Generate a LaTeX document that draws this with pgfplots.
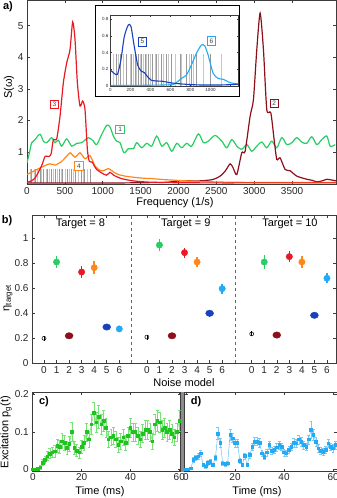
\documentclass[border=0pt]{standalone}
\usepackage{pgfplots}
\pgfplotsset{compat=1.18}
\usepackage{fontspec}
\setmainfont{Liberation Sans}
\definecolor{cgreen}{RGB}{40,205,100}
\definecolor{cdred}{RGB}{140,15,25}
\definecolor{cred}{RGB}{232,25,35}
\definecolor{corange}{RGB}{255,135,25}
\definecolor{cblue}{RGB}{25,65,190}
\definecolor{clblue}{RGB}{35,170,245}
\definecolor{cgreenc}{RGB}{30,195,30}
\definecolor{cgreencl}{RGB}{120,225,120}
\definecolor{clbluel}{RGB}{125,200,245}
\definecolor{axgray}{RGB}{60,60,60}
\pgfplotsset{
  base/.style={
    scale only axis, anchor=south west,
    axis line style={line width=0.6pt, axgray},
    tick style={line width=0.5pt, axgray},
    tick align=inside, major tick length=3pt,
    tick label style={font=\fontsize{10}{12}\selectfont, text=black!85},
    /pgf/number format/assume math mode=true,
    /pgf/number format/1000 sep={},
    scaled ticks=false,
  },
}
\tikzset{boxlab/.style={draw=#1, fill=white, line width=0.7pt, inner sep=0pt, minimum width=8.5pt, minimum height=8.5pt, font=\fontsize{6.5}{7}\selectfont, text=black!75}}
\begin{document}
\begin{tikzpicture}[x=1pt,y=1pt]
% ---------------- panel a ----------------
\begin{axis}[base, at={(27pt,314pt)}, width=309pt, height=183.5pt,
  xmin=0, xmax=4080, ymin=-0.02, ymax=5.8,
  xtick={0,500,...,3500}, ytick={1,2,3,4,5}]
\addplot[ycomb, black!22, line width=0.5pt] coordinates {(40,0.45) (90,0.45) (140,0.45) (190,0.45) (250,0.45) (300,0.45) (340,0.45) (400,0.45) (450,0.45) (500,0.45) (560,0.45) (610,0.45) (680,0.45) (740,0.45) (800,0.45)};
\addplot[ycomb, black!40, line width=0.5pt] coordinates {(60,0.45) (110,0.45) (170,0.45) (220,0.45) (270,0.45) (320,0.45) (370,0.45) (420,0.45) (470,0.45) (530,0.45) (590,0.45) (640,0.45) (710,0.45) (760,0.45) (830,0.45)};
\addplot[cgreen, line width=1.2pt, smooth, tension=0.5] table {
f S
0 0.65
30 0.95
62 1.29
106 1.39
172 1.56
216 1.34
260 1.29
326 1.45
370 1.29
414 1.37
458 1.18
524 1.41
590 1.18
656 1.27
722 1.29
810 1.45
876 1.34
920 1.23
986 1.55
1052 1.84
1096 1.79
1140 1.50
1184 1.34
1228 1.29
1281 0.97
1339 1.10
1405 1.10
1449 1.29
1515 1.13
1581 1.27
1647 1.18
1713 1.50
1779 1.18
1845 1.29
1911 1.02
1977 1.27
2043 1.13
2109 1.27
2175 1.18
2263 1.57
2329 1.29
2395 1.34
2483 1.52
2572 1.34
2638 1.13
2704 1.39
2770 1.18
2836 1.08
2902 1.23
2968 1.02
3034 1.18
3100 1.31
3166 1.13
3232 1.34
3298 1.13
3364 1.45
3430 1.23
3496 1.29
3562 1.45
3628 1.31
3694 1.27
3760 1.48
3826 1.23
3893 1.39
3959 1.50
4003 1.18
4069 1.23
};
\addplot[cdred, line width=1.2pt, smooth, tension=0.4] table {
f S
0 0.01
1000 0.01
1800 0.03
2021 0.08
2285 0.08
2450 0.12
2550 0.23
2620 0.40
2682 0.62
2720 0.50
2770 0.28
2836 0.97
2880 1.02
2946 2.13
2990 2.66
3034 4.24
3078 5.40
3122 4.24
3166 2.34
3219 2.24
3263 1.39
3298 0.76
3342 0.81
3408 0.44
3474 0.40
3562 0.23
3695 0.13
3760 0.10
3826 0.05
3900 0.08
3960 0.13
4080 0.08
};
\addplot[corange, line width=1.2pt, smooth, tension=0.4] table {
f S
0 0.28
100 0.40
200 0.52
300 0.62
370 0.58
450 0.68
520 0.85
570 0.97
634 0.83
700 0.97
766 0.78
832 0.88
898 0.55
960 0.42
1010 0.40
1075 0.47
1150 0.35
1207 0.28
1320 0.22
1500 0.17
1650 0.15
1800 0.12
1950 0.10
2100 0.08
2300 0.06
2600 0.04
3000 0.03
4080 0.025
};
\addplot[cred, line width=1.2pt, smooth, tension=0.4] table {
f S
0 0.03
60 0.08
100 0.15
150 0.35
200 0.60
240 0.86
290 0.85
320 0.95
348 1.39
392 1.41
436 2.13
480 3.19
524 3.82
568 4.24
603 5.12
634 4.56
665 3.19
700 2.45
735 2.61
766 2.34
797 1.08
823 0.70
860 0.68
890 0.55
920 0.44
986 0.33
1050 0.26
1097 0.35
1150 0.25
1250 0.15
1400 0.08
1600 0.04
2000 0.02
2500 0.015
3000 0.015
4080 0.015
};
\node[boxlab=cgreen] at (axis cs:1229,1.71) {1};
\node[boxlab=cdred] at (axis cs:3263,2.53) {2};
\node[boxlab=cred] at (axis cs:361,2.50) {3};
\node[boxlab=corange] at (axis cs:687,0.55) {4};
\end{axis}
% inset
\draw[line width=0.7pt, fill=white] (95.7,401.3) rectangle (239.3,492.7);
\begin{axis}[base, at={(110.5pt,412pt)}, width=127.5pt, height=70.3pt,
  xmin=0, xmax=1275, ymin=0, ymax=0.84,
  major tick length=1.5pt,
  tick label style={font=\fontsize{4.5}{5}\selectfont},
  xtick={0,200,...,1200}, xticklabels={0,200,400,600,800,1000,},
  ytick={0,0.2,0.4,0.6,0.8},
  xticklabel style={yshift=1.5pt}, yticklabel style={xshift=1.5pt}]
\addplot[ycomb, black!22, line width=0.5pt] coordinates {(28,0.38) (78,0.38) (128,0.38) (195,0.38) (230,0.38) (262,0.38) (295,0.38) (330,0.38) (360,0.38) (402,0.38) (445,0.38) (478,0.38) (528,0.38) (578,0.38) (645,0.38) (712,0.38) (790,0.38) (828,0.38) (925,0.38) (1112,0.38)};
\addplot[ycomb, black!40, line width=0.5pt] coordinates {(55,0.38) (102,0.38) (162,0.38) (212,0.38) (245,0.38) (278,0.38) (312,0.38) (345,0.38) (378,0.38) (422,0.38) (462,0.38) (512,0.38) (560,0.38) (612,0.38) (695,0.38) (762,0.38) (812,0.38) (862,0.38) (1000,0.38)};
\addplot[clblue, line width=1.1pt, smooth, tension=0.4] table {
x y
0 0.008
300 0.008
600 0.015
658 0.04
708 0.09
758 0.13
809 0.25
859 0.39
909 0.49
943 0.48
976 0.37
1027 0.15
1077 0.09
1127 0.08
1195 0.04
1275 0.025
};
\addplot[cblue, line width=1.1pt, smooth, tension=0.4] table {
x y
0 0.19
37 0.15
70 0.14
104 0.31
138 0.59
178 0.73
205 0.71
238 0.47
272 0.25
305 0.18
339 0.16
372 0.11
406 0.07
456 0.06
523 0.056
591 0.04
658 0.03
758 0.02
900 0.012
1100 0.012
1275 0.02
};
\node[boxlab=cblue] at (axis cs:320,0.53) {5};
\node[boxlab=clblue] at (axis cs:1010,0.54) {6};
\end{axis}
\node[font=\bfseries\fontsize{11}{12}\selectfont] at (8,491) {a)};
\node[rotate=90, font=\fontsize{11}{12}\selectfont] at (9,411) {S(ω)};
\node[font=\fontsize{11}{12}\selectfont] at (175,295) {Frequency (1/s)};
% ---------------- panel b ----------------
\begin{axis}[base, at={(32pt,134.7pt)}, width=304pt, height=148.3pt,
  xmin=-0.956, xmax=23.27, ymin=0, ymax=1.186,
  ytick={0,0.2,0.4,0.6,0.8,1},
  xtick={0,1,2,3,4,5,6,8.2,9.2,10.2,11.2,12.2,13.2,14.2,16.55,17.55,18.55,19.55,20.55,21.55,22.55},
  xticklabels={0,1,2,3,4,5,6,0,1,2,3,4,5,6,0,1,2,3,4,5,6}]
\draw[dashed, black!60, line width=0.6pt] (axis cs:6.99,0) -- (axis cs:6.99,1.186);
\draw[dashed, black!60, line width=0.6pt] (axis cs:15.22,0) -- (axis cs:15.22,1.186);
\node[font=\fontsize{11}{12}\selectfont] at (axis cs:2.9,1.118) {Target = 8};
\node[font=\fontsize{11}{12}\selectfont] at (axis cs:11.3,1.118) {Target = 9};
\node[font=\fontsize{11}{12}\selectfont] at (axis cs:19.6,1.118) {Target = 10};
\addplot[only marks, mark=o, mark size=2pt, black, line width=0.5pt,
  error bars/.cd, y dir=both, y explicit, error bar style={line width=0.5pt, black}, error mark=none]
  coordinates {(0,0.20) +- (0,0.02) (8.2,0.21) +- (0,0.02) (16.55,0.235) +- (0,0.02)};
\addplot[only marks, mark=*, mark size=3.2pt, cgreen,
  error bars/.cd, y dir=both, y explicit, error bar style={line width=1.4pt, cgreen}, error mark=none]
  coordinates {(1,0.81) +- (0,0.045) (9.2,0.946) +- (0,0.045) (17.55,0.81) +- (0,0.055)};
\addplot[only marks, mark=*, mark size=3.2pt, mark options={xscale=1.25}, cdred,
  error bars/.cd, y dir=both, y explicit, error bar style={line width=1.4pt, cdred}, error mark=none]
  coordinates {(2,0.22) +- (0,0.02) (10.2,0.22) +- (0,0.02) (18.55,0.226) +- (0,0.015)};
\addplot[only marks, mark=*, mark size=3.2pt, cred,
  error bars/.cd, y dir=both, y explicit, error bar style={line width=1.4pt, cred}, error mark=none]
  coordinates {(3,0.73) +- (0,0.05) (11.2,0.885) +- (0,0.04) (19.55,0.853) +- (0,0.045)};
\addplot[only marks, mark=*, mark size=3.2pt, corange,
  error bars/.cd, y dir=both, y explicit, error bar style={line width=1.4pt, corange}, error mark=none]
  coordinates {(4,0.765) +- (0,0.05) (12.2,0.81) +- (0,0.04) (20.55,0.81) +- (0,0.045)};
\addplot[only marks, mark=*, mark size=3.2pt, mark options={xscale=1.25}, cblue,
  error bars/.cd, y dir=both, y explicit, error bar style={line width=1.4pt, cblue}, error mark=none]
  coordinates {(5,0.29) +- (0,0.02) (13.2,0.40) +- (0,0.03) (21.55,0.384) +- (0,0.012)};
\addplot[only marks, mark=*, mark size=3.2pt, clblue,
  error bars/.cd, y dir=both, y explicit, error bar style={line width=1.4pt, clblue}, error mark=none]
  coordinates {(6,0.275) +- (0,0.015) (14.2,0.597) +- (0,0.04) (22.55,0.68) +- (0,0.04)};
\end{axis}
\node[font=\bfseries\fontsize{11}{12}\selectfont] at (7,277) {b)};
\node[rotate=90, font=\fontsize{11}{12}\selectfont] at (8,200) {η\textsubscript{target}};
\node[font=\fontsize{11}{12}\selectfont] at (184,115) {Noise model};
% ---------------- panel c ----------------
\fill[black!45] (180.5,26.3) rectangle (184.5,106);
\begin{axis}[base, at={(32.3pt,26.3pt)}, width=148.2pt, height=79.7pt,
  xmin=-0.2, xmax=60.5, ymin=-0.0064, ymax=0.206,
  xtick={0,20,40,60}, ytick={0,0.1,0.2},
  xticklabel style={yshift=1.5pt}]
\addplot[cgreencl, line width=0.6pt, mark=square*, mark size=1.3pt,
  mark options={cgreenc, fill=cgreenc},
  error bars/.cd, y dir=both, y explicit,
  error bar style={line width=0.5pt, cgreencl}, error mark options={rotate=90, mark size=1.4pt, cgreencl}]
  table[x index=0, y index=1, y error index=2] {
t y e
0 0 0.002
1 0 0.002
2 0.002 0.003
3 0.005 0.005
4 0.018 0.008
5 0.025 0.01
6 0.035 0.012
7 0.042 0.013
8 0.045 0.014
9 0.048 0.015
10 0.062 0.017
11 0.06 0.017
12 0.075 0.02
13 0.07 0.02
14 0.058 0.018
15 0.068 0.02
16 0.1 0.025
17 0.058 0.018
18 0.05 0.016
19 0.045 0.015
20 0.06 0.018
21 0.07 0.02
22 0.1 0.024
23 0.08 0.022
24 0.12 0.026
25 0.15 0.03
26 0.125 0.027
27 0.14 0.03
28 0.12 0.026
29 0.13 0.028
30 0.11 0.025
31 0.08 0.022
32 0.085 0.022
33 0.09 0.023
34 0.08 0.022
35 0.065 0.02
36 0.075 0.021
37 0.085 0.022
38 0.07 0.02
39 0.09 0.023
40 0.11 0.025
41 0.1 0.024
42 0.1 0.024
43 0.09 0.023
44 0.08 0.022
45 0.095 0.024
46 0.105 0.025
47 0.105 0.025
48 0.1 0.024
49 0.075 0.021
50 0.12 0.026
51 0.13 0.028
52 0.125 0.027
53 0.105 0.025
54 0.11 0.025
55 0.1 0.024
56 0.105 0.025
57 0.095 0.024
58 0.085 0.022
59 0.1 0.024
60 0.13 0.028
};
\end{axis}
% ---------------- panel d ----------------
\begin{axis}[base, at={(184.5pt,26.3pt)}, width=152.5pt, height=79.7pt,
  xmin=-0.6, xmax=61.6, ymin=-0.0064, ymax=0.206,
  xtick={0,20,40,60}, ytick={0,0.1,0.2}, yticklabels={},
  xticklabel style={yshift=1.5pt}]
\addplot[clbluel, line width=0.6pt, mark=square*, mark size=1.3pt,
  mark options={clblue, fill=clblue},
  error bars/.cd, y dir=both, y explicit,
  error bar style={line width=0.5pt, clbluel}, error mark options={rotate=90, mark size=1.4pt, clbluel}]
  table[x index=0, y index=1, y error index=2] {
t y e
0 0 0.002
1 0 0.002
2 0.003 0.003
3 0.025 0.006
4 0.03 0.007
5 0.035 0.007
6 0.043 0.008
7 0.012 0.005
8 0.008 0.005
9 0.018 0.006
10 0.02 0.006
11 0.012 0.005
12 0.03 0.007
13 0.095 0.016
14 0.07 0.012
15 0.016 0.005
16 0.014 0.005
17 0.016 0.005
18 0.092 0.015
19 0.083 0.012
20 0.07 0.01
21 0.07 0.011
22 0.023 0.006
23 0.012 0.005
24 0.036 0.008
25 0.012 0.005
26 0.038 0.008
27 0.06 0.01
28 0.074 0.011
29 0.074 0.011
30 0.071 0.011
31 0.043 0.008
32 0.034 0.008
33 0.045 0.009
34 0.065 0.011
35 0.05 0.01
36 0.052 0.01
37 0.059 0.01
38 0.065 0.011
39 0.06 0.01
40 0.045 0.009
41 0.043 0.009
42 0.052 0.01
43 0.06 0.01
44 0.071 0.011
45 0.069 0.011
46 0.08 0.012
47 0.074 0.012
48 0.065 0.011
49 0.06 0.01
50 0.08 0.012
51 0.105 0.022
52 0.092 0.014
53 0.074 0.012
54 0.056 0.01
55 0.05 0.01
56 0.047 0.009
57 0.052 0.01
58 0.069 0.011
59 0.06 0.01
60 0.056 0.01
61 0.065 0.011
};
\end{axis}
\node[font=\bfseries\fontsize{11}{12}\selectfont] at (44,96) {c)};
\node[font=\bfseries\fontsize{11}{12}\selectfont] at (196,96) {d)};
\node[rotate=90, font=\fontsize{11}{12}\selectfont] at (6,66) {Excitation p\textsubscript{g}(t)};
\node[font=\fontsize{11}{12}\selectfont] at (100,6.5) {Time (ms)};
\node[font=\fontsize{11}{12}\selectfont] at (257,6.5) {Time (ms)};
\pgfresetboundingbox
\path[use as bounding box] (0,0) rectangle (337,498);
\end{tikzpicture}
\end{document}
